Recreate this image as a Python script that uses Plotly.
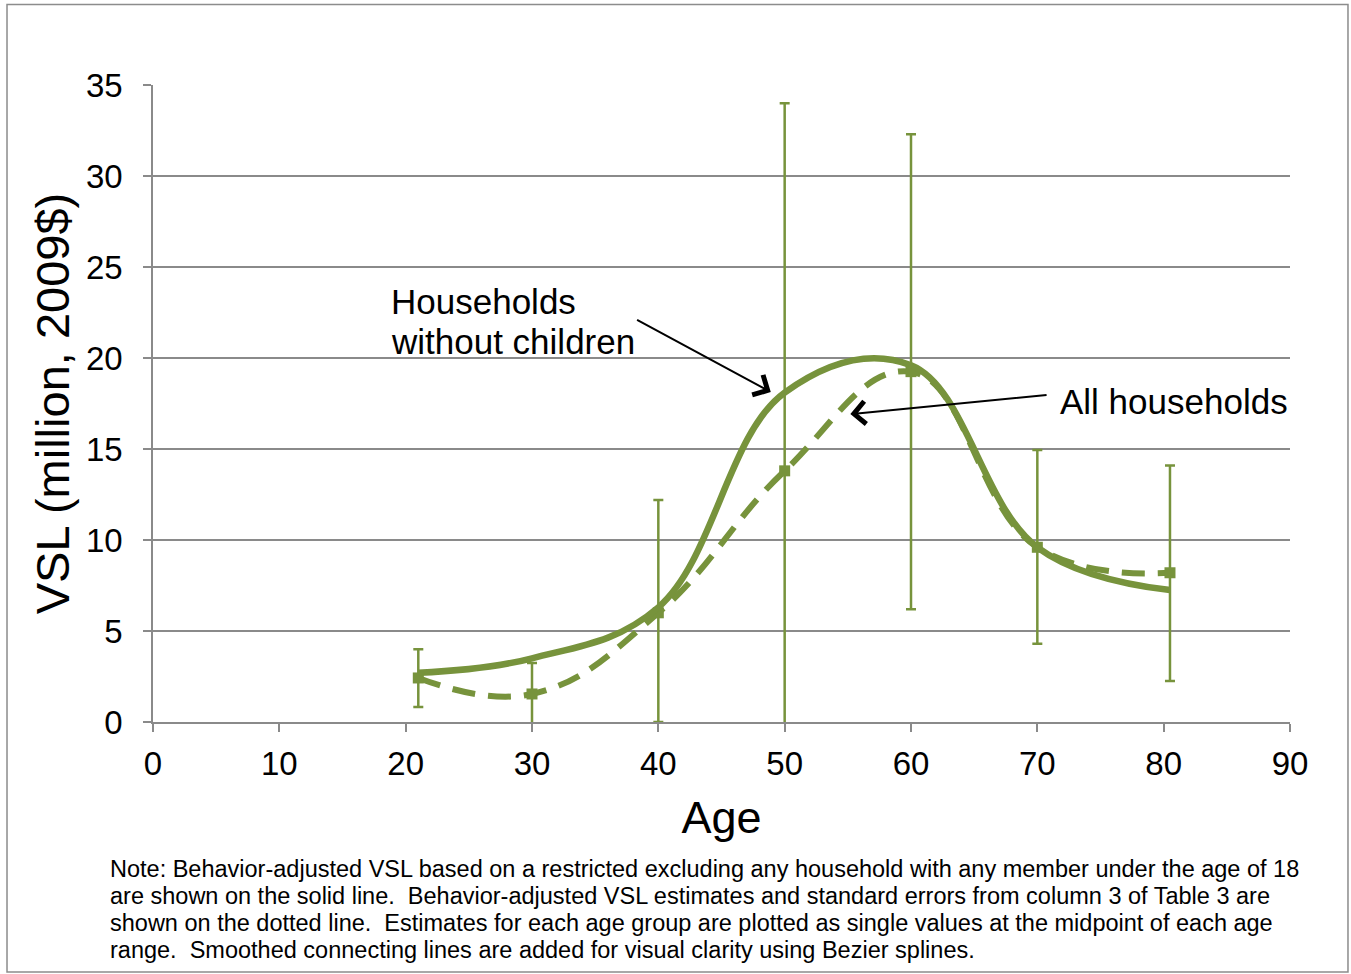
import plotly.graph_objects as go

# Age-group midpoints and VSL estimates (million, 2009$)
ages = [21, 30, 40, 50, 60, 70, 80.5]
vsl_no_children = [2.7, 3.5, 6.3, 18.1, 19.6, 9.6, 7.25]
vsl_all = [2.42, 1.54, 6.0, 13.8, 19.25, 9.6, 8.2]
# standard-error bar extents for the all-household estimates
se_upper = [1.58, 1.7, 6.2, 20.2, 13.05, 5.35, 5.9]
se_lower = [1.6, 1.7, 6.0, 20.2, 13.05, 5.3, 5.95]

x_ticks = list(range(0, 91, 10))
y_ticks = list(range(0, 36, 5))

note_lines = [
    "Note: Behavior-adjusted VSL based on a restricted excluding any household with any member under the age of 18",
    "are shown on the solid line.  Behavior-adjusted VSL estimates and standard errors from column 3 of Table 3 are",
    "shown on the dotted line.  Estimates for each age group are plotted as single values at the midpoint of each age",
    "range.  Smoothed connecting lines are added for visual clarity using Bezier splines.",
]

GREEN = "#77933C"
GRID = "#8a8a8a"
FONT = "Liberation Sans, Arial, sans-serif"

fig = go.Figure()

fig.add_trace(go.Scatter(
    x=ages, y=vsl_all, mode="lines+markers",
    line=dict(color=GREEN, width=6, dash="23px,13px", shape="spline", smoothing=1.2),
    marker=dict(symbol="square", size=11, color=GREEN),
    error_y=dict(type="data", symmetric=False, array=se_upper, arrayminus=se_lower,
                 color=GREEN, thickness=2.5, width=5),
    name="All households", showlegend=False, hoverinfo="x+y",
))

fig.add_trace(go.Scatter(
    x=ages, y=vsl_no_children, mode="lines",
    line=dict(color=GREEN, width=6.5, shape="spline", smoothing=1.1),
    name="Households without children", showlegend=False, hoverinfo="x+y",
))

annotations = [
    dict(x=18.7, y=23.13, xref="x", yref="y", xanchor="left", yanchor="middle",
         showarrow=False, text="Households", font=dict(size=35, color="black")),
    dict(x=18.7, y=20.93, xref="x", yref="y", xanchor="left", yanchor="middle",
         showarrow=False, text="without children", font=dict(size=35, color="black")),
    dict(x=48.9, y=18.13, ax=38.2, ay=22.14, xref="x", yref="y", axref="x", ayref="y",
         showarrow=True, arrowhead=4, arrowsize=2.2, arrowwidth=2, arrowcolor="black", text=""),
    dict(x=71.6, y=17.6, xref="x", yref="y", xanchor="left", yanchor="middle",
         showarrow=False, text="All households", font=dict(size=35, color="black")),
    dict(x=55.2, y=16.92, ax=70.85, ay=17.97, xref="x", yref="y", axref="x", ayref="y",
         showarrow=True, arrowhead=4, arrowsize=2.2, arrowwidth=2, arrowcolor="black", text=""),
]

# footnote: one annotation per line so the line pitch stays fixed
note_y = [-0.2308, -0.2732, -0.3156, -0.3579]
for line, yy in zip(note_lines, note_y):
    annotations.append(dict(x=-0.0396, y=yy, xref="paper", yref="paper",
                            xanchor="left", yanchor="middle", align="left",
                            showarrow=False, text=line,
                            font=dict(size=23.5, color="black")))

fig.update_layout(
    width=1351, height=974,
    margin=dict(l=153, r=61, t=85, b=252),
    paper_bgcolor="white", plot_bgcolor="white",
    font=dict(family=FONT, color="black"),
    annotations=annotations,
    shapes=[dict(type="rect", xref="paper", yref="paper",
                 x0=-0.1284, x1=1.051, y0=-0.3925, y1=1.1264,
                 line=dict(color="#8c8c8c", width=1.5), layer="below")],
)

fig.update_xaxes(
    range=[0, 90], tickvals=x_ticks, ticktext=[str(v) for v in x_ticks],
    showgrid=False, zeroline=False,
    showline=True, linecolor=GRID, linewidth=1.5,
    ticks="outside", ticklen=8, tickcolor=GRID, tickwidth=1.5,
    tickfont=dict(size=33), ticklabelstandoff=4,
    title=dict(text="Age", font=dict(size=45), standoff=20),
    automargin=False,
)
fig.update_yaxes(
    range=[0, 35], tickvals=y_ticks, ticktext=[str(v) for v in y_ticks],
    showgrid=True, gridcolor=GRID, gridwidth=1.5, zeroline=False,
    showline=True, linecolor=GRID, linewidth=1.5,
    ticks="outside", ticklen=8, tickcolor=GRID, tickwidth=1.5,
    tickfont=dict(size=33), ticklabelstandoff=14,
    title=dict(text="VSL (million, 2009$)", font=dict(size=47), standoff=1),
    automargin=False,
)

fig.write_html("out.html")
